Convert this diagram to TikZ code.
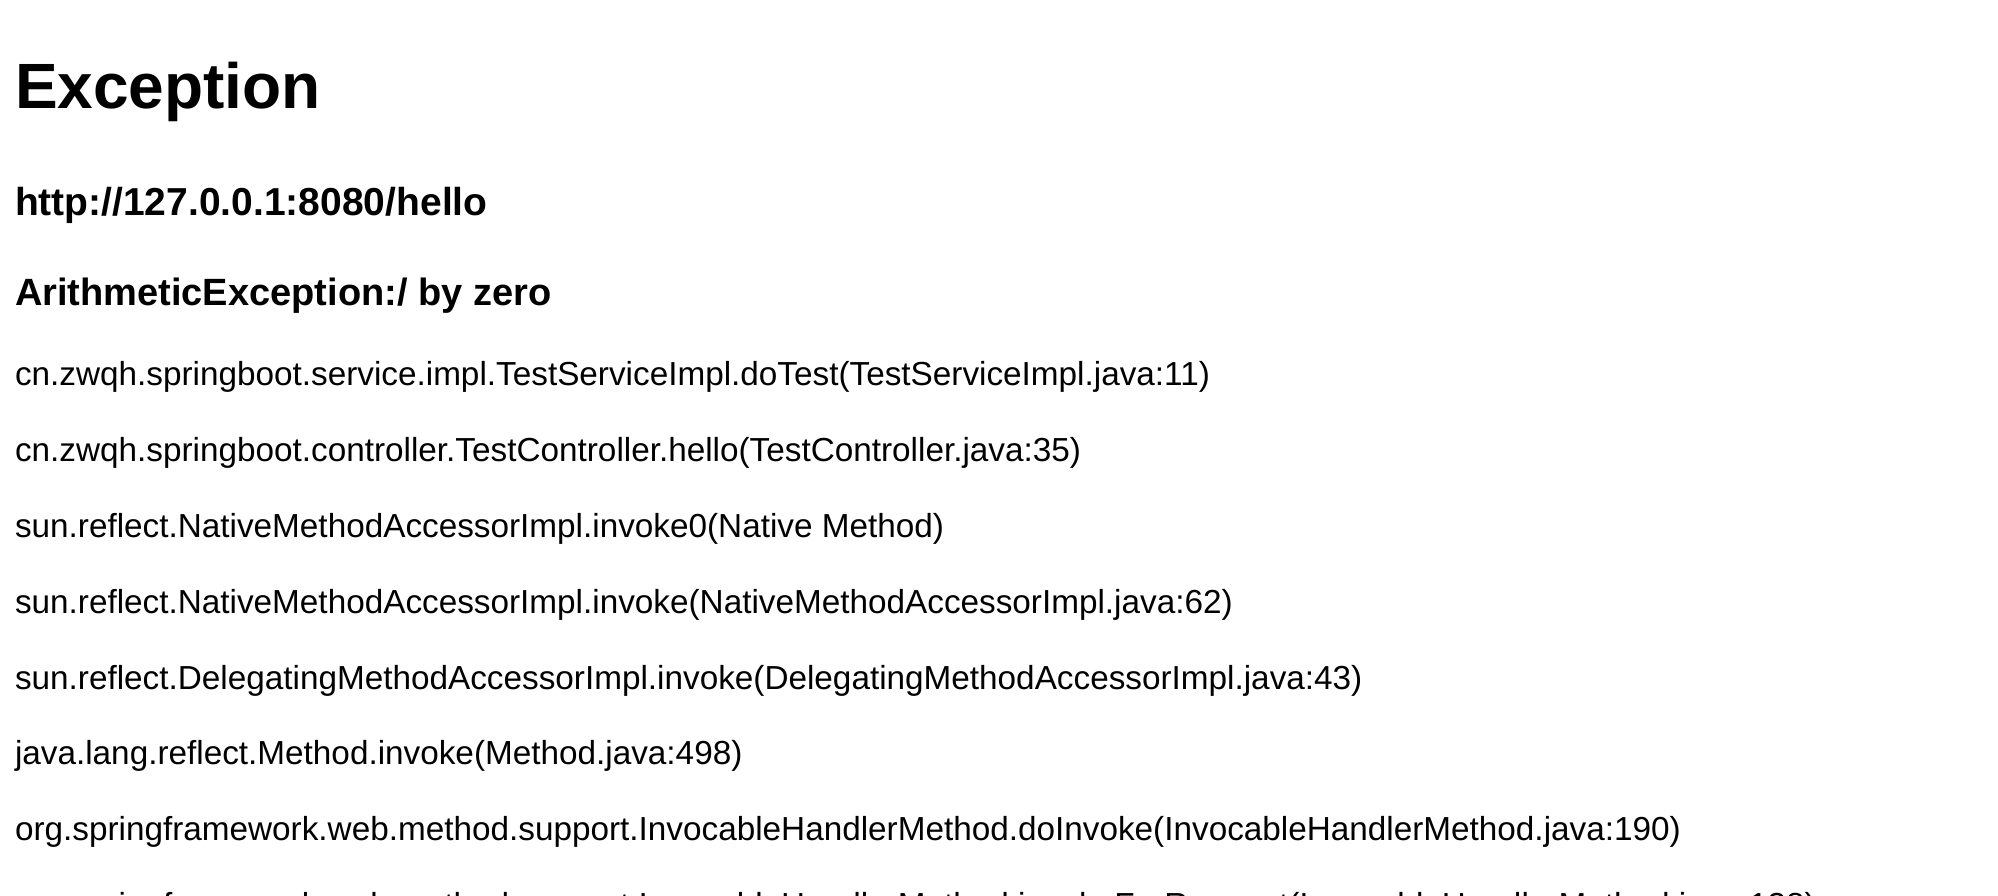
\documentclass[tikz,border=0pt]{standalone}
\usepackage{fontspec}
\setmainfont{Liberation Sans}
\begin{document}
\begin{tikzpicture}[x=1bp,y=-1bp,
  txt/.style={anchor=base west,inner sep=0pt,outer sep=0pt,text=black},
  titlestyle/.style={txt,font=\fontsize{64bp}{76bp}\selectfont\bfseries},
  headstyle/.style={txt,font=\fontsize{38.5bp}{46bp}\selectfont\bfseries},
  bodystyle/.style={txt,font=\fontsize{33.3bp}{40bp}\selectfont}]
\useasboundingbox (0,0) rectangle (1998,896);
\fill[white] (0,0) rectangle (1998,896);
\clip (0,0) rectangle (1998,896);
\node[titlestyle] (title) at (15,108) {Exception};
\node[headstyle,font=\fontsize{39bp}{46bp}\selectfont\bfseries] (url) at (15,215) {http://127.0.0.1:8080/hello};
\node[headstyle,font=\fontsize{38bp}{46bp}\selectfont\bfseries] (exc) at (15,305) {ArithmeticException:/ by zero};
\node[bodystyle] (l1) at (15,385) {cn.zwqh.springboot.service.impl.TestServiceImpl.doTest(TestServiceImpl.java:11)};
\node[bodystyle] (l2) at (15,461) {cn.zwqh.springboot.controller.TestController.hello(TestController.java:35)};
\node[bodystyle] (l3) at (15,537) {sun.reflect.NativeMethodAccessorImpl.invoke0(Native Method)};
\node[bodystyle] (l4) at (15,613) {sun.reflect.NativeMethodAccessorImpl.invoke(NativeMethodAccessorImpl.java:62)};
\node[bodystyle] (l5) at (15,689) {sun.reflect.DelegatingMethodAccessorImpl.invoke(DelegatingMethodAccessorImpl.java:43)};
\node[bodystyle] (l6) at (15,764) {java.lang.reflect.Method.invoke(Method.java:498)};
\node[bodystyle] (l7) at (15,840) {org.springframework.web.method.support.InvocableHandlerMethod.doInvoke(InvocableHandlerMethod.java:190)};
\node[bodystyle] (l8) at (15,916) {org.springframework.web.method.support.InvocableHandlerMethod.invokeForRequest(InvocableHandlerMethod.java:138)};
\end{tikzpicture}
\end{document}
